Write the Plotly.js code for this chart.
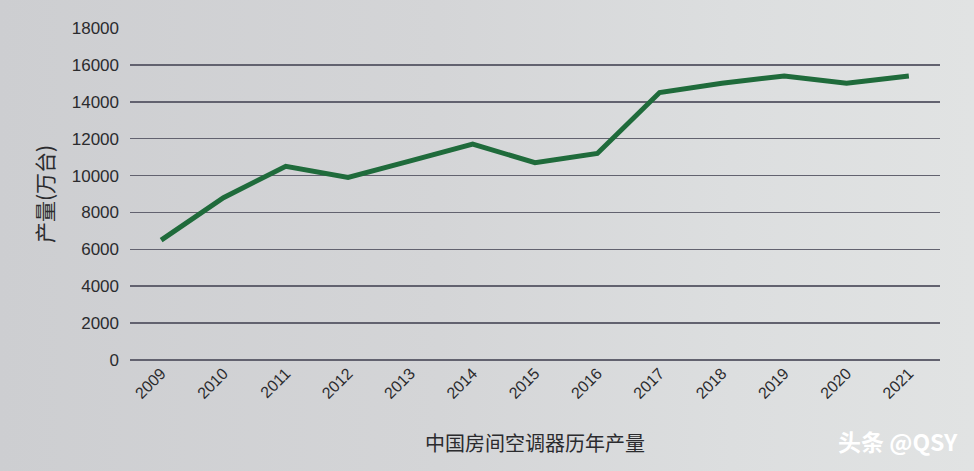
<!DOCTYPE html>
<html>
<head>
<meta charset="utf-8">
<script src="https://cdn.plot.ly/plotly-3.0.1.min.js"></script>
<style>
  html, body { margin: 0; padding: 0; }
  body { width: 974px; height: 471px; background: linear-gradient(90deg, #cdced1 0%, #d4d5d7 45%, #dcdedf 75%, #e1e3e3 100%); }
  #chart { width: 974px; height: 471px; }
</style>
</head>
<body>
<div id="chart"></div>
<script>
const years = ["2009","2010","2011","2012","2013","2014","2015","2016","2017","2018","2019","2020","2021"];
const production = [6500, 8800, 10500, 9900, 10800, 11700, 10700, 11200, 14500, 15000, 15400, 15000, 15400];
const yTicks = [0, 2000, 4000, 6000, 8000, 10000, 12000, 14000, 16000, 18000];

const trace = {
  type: "scatter",
  mode: "lines",
  x: years,
  y: production,
  line: { color: "#1f6b3b", width: 5 },
  hoverinfo: "x+y"
};

const layout = {
  width: 974,
  height: 471,
  paper_bgcolor: "rgba(0,0,0,0)",
  plot_bgcolor: "rgba(0,0,0,0)",
  margin: { l: 130, r: 34, t: 28, b: 111 },
  showlegend: false,
  font: { family: "Liberation Sans, Arial, sans-serif", color: "#2b2b2e" },
  xaxis: {
    type: "category",
    range: [-0.5, 12.5],
    showgrid: false,
    zeroline: false,
    showline: false,
    ticks: "",
    tickangle: -45,
    tickfont: { size: 16, color: "#2b2b2e" },
    title: {
      text: "中国房间空调器历年产量",
      font: { family: "Noto Sans CJK SC, sans-serif", size: 20, color: "#2b2b2e" },
      standoff: 36
    }
  },
  yaxis: {
    range: [0, 18000],
    tickvals: yTicks,
    ticktext: yTicks.map(String),
    showgrid: true,
    gridcolor: "#62626f",
    gridwidth: 1.5,
    zeroline: true,
    zerolinecolor: "#62626f",
    zerolinewidth: 1.5,
    showline: false,
    ticks: "",
    ticklabelstandoff: 10,
    tickfont: { size: 17, color: "#2b2b2e" },
    title: {
      text: "产量(万台)",
      font: { family: "Noto Sans CJK SC, sans-serif", size: 21, color: "#2b2b2e" },
      standoff: 12
    }
  },
  annotations: [
    {
      xref: "paper", yref: "paper", x: 1.0, y: -0.245,
      xanchor: "right", yanchor: "middle",
      xshift: 20,
      text: "<b>头条 @QSY</b>", showarrow: false,
      font: { family: "Noto Sans CJK SC, sans-serif", size: 23, color: "#ffffff" }
    }
  ]
};

Plotly.newPlot("chart", [trace], layout, { displayModeBar: false, staticPlot: true });
</script>
</body>
</html>
